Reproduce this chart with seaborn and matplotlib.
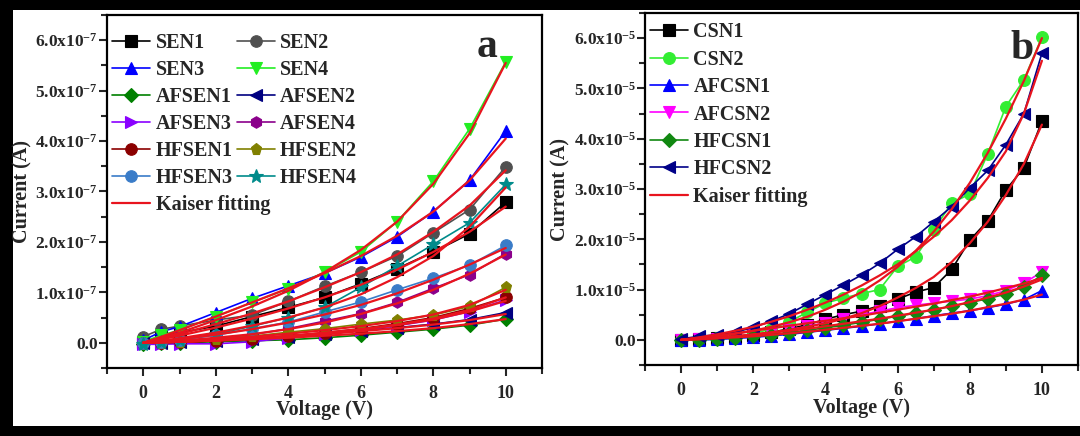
import numpy as np
import pandas as pd
import matplotlib
matplotlib.use("Agg")
import matplotlib.pyplot as plt
from matplotlib.patches import Rectangle
from matplotlib.ticker import MultipleLocator, FuncFormatter
import seaborn as sns

# ---------------- data: panel a (units of 1e-7 A) ----------------
volt_a = [0, 0.5, 1, 2, 3, 4, 5, 6, 7, 8, 9, 10]
names_a = ["SEN1", "SEN2", "SEN3", "SEN4", "AFSEN1", "AFSEN2", "AFSEN3", "AFSEN4",
           "HFSEN1", "HFSEN2", "HFSEN3", "HFSEN4"]
SEN1 = [0.02, 0.12, 0.20, 0.33, 0.52, 0.70, 0.90, 1.17, 1.47, 1.80, 2.16, 2.79]
SEN2 = [0.12, 0.27, 0.33, 0.45, 0.55, 0.82, 1.12, 1.40, 1.72, 2.18, 2.64, 3.49]
SEN3 = [0.05, 0.22, 0.32, 0.60, 0.88, 1.13, 1.38, 1.70, 2.10, 2.60, 3.22, 4.20]
SEN4 = [0.02, 0.15, 0.25, 0.52, 0.80, 1.07, 1.40, 1.80, 2.40, 3.20, 4.24, 5.57]
AFSEN1 = [-0.02, -0.01, 0.00, 0.02, 0.04, 0.06, 0.10, 0.15, 0.21, 0.27, 0.35, 0.47]
AFSEN2 = [0.00, 0.00, 0.01, 0.04, 0.08, 0.12, 0.18, 0.24, 0.30, 0.37, 0.46, 0.60]
AFSEN3 = [-0.03, -0.03, -0.02, -0.02, 0.02, 0.10, 0.17, 0.25, 0.34, 0.45, 0.62, 0.85]
AFSEN4 = [0.00, 0.00, 0.02, 0.08, 0.16, 0.28, 0.43, 0.58, 0.80, 1.08, 1.35, 1.77]
HFSEN1 = [0.00, 0.00, 0.01, 0.04, 0.08, 0.13, 0.20, 0.28, 0.38, 0.50, 0.68, 0.90]
HFSEN2 = [0.00, 0.00, 0.02, 0.08, 0.13, 0.21, 0.28, 0.37, 0.45, 0.55, 0.72, 1.10]
HFSEN3 = [0.00, 0.02, 0.05, 0.15, 0.28, 0.41, 0.61, 0.81, 1.05, 1.28, 1.54, 1.93]
HFSEN4 = [-0.02, 0.02, 0.06, 0.17, 0.33, 0.50, 0.70, 1.10, 1.52, 1.95, 2.38, 3.14]

# Kaiser fitting curves, panel a
FIT_SEN1 = [0, 0.07, 0.14, 0.30, 0.48, 0.68, 0.90, 1.15, 1.45, 1.80, 2.20, 2.70]
FIT_SEN2 = [0, 0.08, 0.17, 0.37, 0.58, 0.82, 1.10, 1.40, 1.75, 2.20, 2.72, 3.42]
FIT_SEN3 = [0, 0.12, 0.25, 0.52, 0.80, 1.08, 1.38, 1.72, 2.12, 2.60, 3.22, 4.05]
FIT_SEN4 = [0, 0.10, 0.20, 0.45, 0.72, 1.03, 1.40, 1.84, 2.40, 3.15, 4.15, 5.55]
FIT_AFSEN1 = [0, 0.01, 0.02, 0.04, 0.07, 0.10, 0.14, 0.18, 0.23, 0.29, 0.37, 0.47]
FIT_AFSEN2 = [0, 0.01, 0.02, 0.05, 0.08, 0.12, 0.17, 0.23, 0.29, 0.36, 0.45, 0.57]
FIT_AFSEN3 = [0, 0.01, 0.02, 0.05, 0.09, 0.13, 0.19, 0.26, 0.35, 0.46, 0.62, 0.83]
FIT_AFSEN4 = [0, 0.02, 0.04, 0.10, 0.17, 0.27, 0.40, 0.57, 0.78, 1.05, 1.37, 1.75]
FIT_HFSEN1 = [0, 0.01, 0.02, 0.05, 0.09, 0.14, 0.20, 0.27, 0.36, 0.48, 0.65, 0.90]
FIT_HFSEN2 = [0, 0.01, 0.03, 0.07, 0.12, 0.18, 0.25, 0.33, 0.43, 0.56, 0.75, 1.05]
FIT_HFSEN3 = [0, 0.03, 0.07, 0.16, 0.27, 0.40, 0.56, 0.75, 0.98, 1.25, 1.55, 1.88]
FIT_HFSEN4 = [0, 0.04, 0.09, 0.20, 0.34, 0.50, 0.70, 0.96, 1.30, 1.72, 2.30, 3.08]

# ---------------- data: panel b (units of 1e-5 A) ----------------
volt_b = [0, 0.5, 1, 1.5, 2, 2.5, 3, 3.5, 4, 4.5, 5, 5.5, 6, 6.5, 7, 7.5, 8, 8.5, 9, 9.5, 10]
names_b = ["CSN1", "CSN2", "AFCSN1", "AFCSN2", "HFCSN1", "HFCSN2"]
CSN1 = [0, 0.01, 0.03, 0.05, 0.10, 0.15, 0.22, 0.30, 0.41, 0.50, 0.57, 0.68, 0.81, 0.95,
        1.04, 1.40, 1.98, 2.37, 2.98, 3.42, 4.35]
CSN2 = [0, 0.01, 0.03, 0.06, 0.12, 0.22, 0.36, 0.55, 0.73, 0.83, 0.92, 1.00, 1.46, 1.65,
        2.19, 2.72, 2.90, 3.70, 4.64, 5.17, 6.02]
AFCSN1 = [0, 0.00, 0.01, 0.03, 0.05, 0.08, 0.11, 0.15, 0.19, 0.23, 0.27, 0.32, 0.37, 0.42,
          0.48, 0.53, 0.58, 0.64, 0.71, 0.80, 0.98]
AFCSN2 = [0, 0.01, 0.02, 0.05, 0.09, 0.14, 0.20, 0.27, 0.34, 0.42, 0.50, 0.57, 0.64, 0.69,
          0.73, 0.77, 0.81, 0.88, 0.98, 1.13, 1.35]
HFCSN1 = [0, 0.00, 0.02, 0.04, 0.07, 0.10, 0.14, 0.19, 0.24, 0.29, 0.35, 0.41, 0.47, 0.53,
          0.60, 0.67, 0.74, 0.82, 0.91, 1.06, 1.28]
HFCSN2 = [0.02, 0.07, 0.10, 0.15, 0.25, 0.37, 0.52, 0.71, 0.90, 1.09, 1.29, 1.52, 1.80, 2.05,
          2.35, 2.65, 3.02, 3.37, 3.88, 4.50, 5.70]

FIT_CSN1 = [0, 0.02, 0.04, 0.07, 0.11, 0.15, 0.20, 0.26, 0.33, 0.42, 0.53, 0.67, 0.84, 1.03,
            1.25, 1.55, 1.92, 2.35, 2.88, 3.50, 4.28]
FIT_CSN2 = [0, 0.03, 0.07, 0.12, 0.18, 0.26, 0.35, 0.46, 0.60, 0.76, 0.95, 1.18, 1.45, 1.77,
            2.15, 2.60, 3.12, 3.72, 4.40, 5.15, 6.00]
FIT_AFCSN1 = [0, 0.01, 0.03, 0.05, 0.07, 0.10, 0.13, 0.16, 0.20, 0.24, 0.28, 0.32, 0.37, 0.42,
              0.47, 0.52, 0.58, 0.65, 0.72, 0.80, 0.90]
FIT_AFCSN2 = [0, 0.04, 0.08, 0.13, 0.18, 0.23, 0.28, 0.33, 0.38, 0.43, 0.48, 0.54, 0.60, 0.66,
              0.72, 0.79, 0.86, 0.94, 1.03, 1.12, 1.23]
FIT_HFCSN1 = [0, 0.02, 0.04, 0.07, 0.10, 0.14, 0.18, 0.22, 0.27, 0.32, 0.37, 0.42, 0.48, 0.54,
              0.60, 0.67, 0.75, 0.84, 0.94, 1.06, 1.20]
FIT_HFCSN2 = [0, 0.05, 0.11, 0.18, 0.26, 0.36, 0.47, 0.60, 0.74, 0.90, 1.08, 1.28, 1.50, 1.76,
              2.05, 2.38, 2.77, 3.22, 3.75, 4.50, 5.55]

SCALE_A = 1e-7
SCALE_B = 1e-5

data_a = [SEN1, SEN2, SEN3, SEN4, AFSEN1, AFSEN2, AFSEN3, AFSEN4, HFSEN1, HFSEN2, HFSEN3, HFSEN4]
fits_a = [FIT_SEN1, FIT_SEN2, FIT_SEN3, FIT_SEN4, FIT_AFSEN1, FIT_AFSEN2, FIT_AFSEN3, FIT_AFSEN4,
          FIT_HFSEN1, FIT_HFSEN2, FIT_HFSEN3, FIT_HFSEN4]
data_b = [CSN1, CSN2, AFCSN1, AFCSN2, HFCSN1, HFCSN2]
fits_b = [FIT_CSN1, FIT_CSN2, FIT_AFCSN1, FIT_AFCSN2, FIT_HFCSN1, FIT_HFCSN2]

# styles
colors_a = ["#000000", "#505050", "#0000FF", "#22EE22", "#008000", "#000080", "#8A00FF", "#8B008B",
            "#8B0000", "#808000", "#3A7CC8", "#008B8B"]
markers_a = ["s", "o", "^", "v", "D", "<", ">", "h", "o", "p", "o", "*"]
colors_b = ["#000000", "#33EE33", "#0000FF", "#FF00FF", "#118811", "#000088"]
markers_b = ["s", "o", "^", "v", "D", "<"]
FIT_COLOR = "#E8141E"

sns.set_style("ticks")
plt.rcParams["font.family"] = ["Liberation Serif", "DejaVu Serif"]
plt.rcParams["font.weight"] = "bold"
plt.rcParams["axes.labelweight"] = "bold"
plt.rcParams["mathtext.fontset"] = "custom"
plt.rcParams["mathtext.rm"] = "Liberation Serif:bold"
plt.rcParams["mathtext.bf"] = "Liberation Serif:bold"
plt.rcParams["mathtext.it"] = "Liberation Serif:bold"
plt.rcParams["mathtext.default"] = "bf"

fig = plt.figure(figsize=(10.8, 4.36), dpi=100)
fig.patch.set_facecolor("black")
fig.add_artist(Rectangle((13 / 1080, 10 / 436), 1 - 13 / 1080, 1 - 20 / 436,
                         transform=fig.transFigure, facecolor="white", edgecolor="none", zorder=0))

ax_a = fig.add_axes([107 / 1080, 1 - 368 / 436, 435 / 1080, 353 / 436])
ax_b = fig.add_axes([645 / 1080, 1 - 365 / 436, 433 / 1080, 352 / 436])


def make_fmt(scale, exp):
    def f(v, pos):
        val = v / scale
        if abs(val) < 1e-9:
            return "0.0"
        return "%.1fx10$^{%d}$" % (val, exp)
    return FuncFormatter(f)


def draw(ax, volt, names, data, fits, colors, markers, scale, ms):
    for name, vals, col, mk in zip(names, data, colors, markers):
        df = pd.DataFrame({"V": volt, "I": np.array(vals) * scale})
        msize = ms * 1.3 if mk == "*" else (ms * 0.85 if mk == "D" else ms)
        sns.lineplot(data=df, x="V", y="I", ax=ax, color=col, marker=mk, markersize=msize,
                     markeredgecolor=col, markeredgewidth=0.8, linewidth=1.2, label=name,
                     sort=False, zorder=3)
    for i, vals in enumerate(fits):
        df = pd.DataFrame({"V": volt, "I": np.array(vals) * scale})
        sns.lineplot(data=df, x="V", y="I", ax=ax, color=FIT_COLOR, linewidth=1.6,
                     label="Kaiser fitting" if i == 0 else "_nolegend_", sort=False, zorder=4)


draw(ax_a, volt_a, names_a, data_a, fits_a, colors_a, markers_a, SCALE_A, 8.3)
draw(ax_b, volt_b, names_b, data_b, fits_b, colors_b, markers_b, SCALE_B, 8.5)

for ax, scale, exp in [(ax_a, SCALE_A, -7), (ax_b, SCALE_B, -5)]:
    ax.set_xlim(-1, 11)
    ax.set_ylim(-0.5 * scale, 6.5 * scale)
    ax.xaxis.set_major_locator(MultipleLocator(2))
    ax.xaxis.set_minor_locator(MultipleLocator(1))
    ax.yaxis.set_major_locator(MultipleLocator(1 * scale))
    ax.yaxis.set_minor_locator(MultipleLocator(0.5 * scale))
    ax.yaxis.set_major_formatter(make_fmt(scale, exp))
    ax.tick_params(which="both", direction="out", width=1.5, labelsize=12.5)
    ax.tick_params(axis="x", which="major", length=6, pad=6, labelsize=13)
    ax.tick_params(axis="y", which="major", length=6, pad=0.5)
    ax.tick_params(which="minor", length=4)
    for sp in ax.spines.values():
        sp.set_linewidth(1.6)
        sp.set_color("black")
        sp.set_visible(True)
    ax.set_xlabel("Voltage (V)", fontsize=14.5, fontweight="bold")
    ax.set_ylabel("Current (A)", fontsize=14.5, fontweight="bold")
    ax.set_facecolor("white")
    for lab in ax.get_xticklabels() + ax.get_yticklabels():
        lab.set_fontweight("bold")

ax_a.yaxis.set_label_coords(-0.172, 0.5)
ax_a.xaxis.set_label_coords(0.5, -0.09)
ax_b.yaxis.set_label_coords(-0.171, 0.5)
ax_b.xaxis.set_label_coords(0.5, -0.094)

# legends
LEG_PROP = {"size": 14.5, "weight": "bold"}
h, l = ax_a.get_legend_handles_labels()
d = dict(zip(l, h))
order_a = ["SEN1", "SEN3", "AFSEN1", "AFSEN3", "HFSEN1", "HFSEN3",
           "SEN2", "SEN4", "AFSEN2", "AFSEN4", "HFSEN2", "HFSEN4"]
leg1 = ax_a.legend([d[k] for k in order_a], order_a, ncol=2, loc="upper left",
                   bbox_to_anchor=(0.012, 0.949), frameon=False, prop=LEG_PROP,
                   handlelength=1.9, handletextpad=0.25, columnspacing=0.2, labelspacing=0.35,
                   borderpad=0, borderaxespad=0)
ax_a.add_artist(leg1)
ax_a.legend([d["Kaiser fitting"]], ["Kaiser fitting"], loc="upper left",
            bbox_to_anchor=(0.012, 0.49), frameon=False, prop=LEG_PROP,
            handlelength=1.9, handletextpad=0.25, borderpad=0, borderaxespad=0)

h, l = ax_b.get_legend_handles_labels()
d = dict(zip(l, h))
order_b = names_b + ["Kaiser fitting"]
ax_b.legend([d[k] for k in order_b], order_b, loc="upper left",
            bbox_to_anchor=(0.012, 0.974), frameon=False, prop=LEG_PROP,
            handlelength=1.9, handletextpad=0.25, labelspacing=0.37, borderpad=0, borderaxespad=0)

ax_a.text(0.874, 0.908, "a", transform=ax_a.transAxes, fontsize=30, fontweight="bold",
          ha="center", va="center")
ax_b.text(0.871, 0.898, "b", transform=ax_b.transAxes, fontsize=30, fontweight="bold",
          ha="center", va="center")

fig.savefig("out.png", dpi=100, facecolor=fig.get_facecolor())
